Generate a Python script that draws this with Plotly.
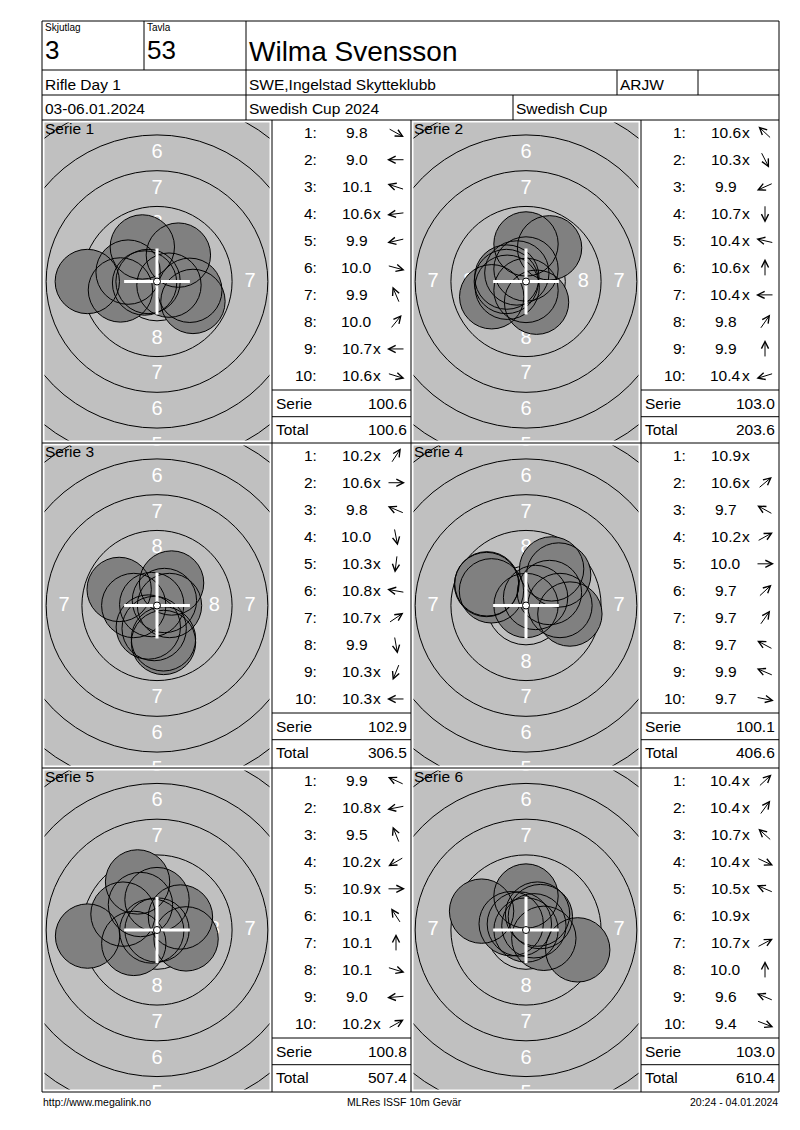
import plotly.graph_objects as go
import numpy as np

# 01. data
# huvud (header)
skjutlag = "3"
tavla = "53"
skytt = "Wilma Svensson"
dag = "Rifle Day 1"
klubb = "SWE,Ingelstad Skytteklubb"
klass = "ARJW"
datum = "03-06.01.2024"
tavling = "Swedish Cup 2024"
cup = "Swedish Cup"

# skott per serie: värde och riktning (grader, 0 = höger, moturs, None = mitt)
s1_varde = ["9.8", "9.0", "10.1", "10.6x", "9.9", "10.0", "9.9", "10.0", "10.7x", "10.6x"]
s1_riktning = [-29, 180, 162, 187, 193, -15, 113, 51, 180, -17]
s2_varde = ["10.6x", "10.3x", "9.9", "10.7x", "10.4x", "10.6x", "10.4x", "9.8", "9.9", "10.4x"]
s2_riktning = [137, -63, 204, -90, 167, 90, 180, 55, 90, 197]
s3_varde = ["10.2x", "10.6x", "9.8", "10.0", "10.3x", "10.8x", "10.7x", "9.9", "10.3x", "10.3x"]
s3_riktning = [57, 0, 157, -79, 263, 170, 34, -80, 248, 180]
s4_varde = ["10.9x", "10.6x", "9.7", "10.2x", "10.0", "9.7", "9.7", "9.7", "9.9", "9.7"]
s4_riktning = [None, 40, 151, 29, 0, 43, 55, 152, 157, -11]
s5_varde = ["9.9", "10.8x", "9.5", "10.2x", "10.9x", "10.1", "10.1", "10.1", "9.0", "10.2x"]
s5_riktning = [155, 191, 112, 210, 0, 123, 90, -17, 185, 29]
s6_varde = ["10.4x", "10.4x", "10.7x", "10.4x", "10.5x", "10.9x", "10.7x", "10.0", "9.6", "9.4"]
s6_riktning = [43, 54, 138, -25, 157, None, 28, 90, 157, -21]

serie_summa = ["100.6", "103.0", "102.9", "100.1", "100.8", "103.0"]
total_summa = ["100.6", "203.6", "306.5", "406.6", "507.4", "610.4"]

ring_tal = ["8", "7", "6", "5"]

fot_vanster = "http://www.megalink.no"
fot_mitt = "MLRes ISSF 10m Gevär"
fot_hoger = "20:24 - 04.01.2024"

serier = [
    (s1_varde, s1_riktning), (s2_varde, s2_riktning), (s3_varde, s3_riktning),
    (s4_varde, s4_riktning), (s5_varde, s5_riktning), (s6_varde, s6_riktning),
]

# 02. layout-konstanter (pixlar)
W, H = 800, 1130
FONT = "Liberation Sans, Arial, sans-serif"
K = 14.3             # px per mm på tavlan
KULA = 2.25          # kulradie mm
RINGAR = [0.25 + (10 - n) * 2.5 for n in range(9, 3, -1)]   # ring 9..4 radier mm
TAL_POS = [4.0, 6.5, 9.0, 11.5]                              # mitt i ring 8,7,6,5
KORS = 2.3

VX = 42; HX = 779; TOPP = 21; BOTTEN = 1092
tavla_kol = [(42, 272), (411, 641)]
tabell_kol = [(272, 411), (641, 779)]
rader = [(120, 443), (443, 768), (768, 1092)]


def px(x):
    return x / W


def py(y):
    return 1 - y / H


def skott_xy(varde, vinkel):
    s = float(varde.rstrip("x"))
    r = (10.9 - s) * 2.5 + 0.125 if s < 10.9 else 0.0
    a = np.radians(vinkel if vinkel is not None else 0)
    return r * np.cos(a), r * np.sin(a)


fig = go.Figure()
shapes = []
ann = []


def linje(x0, y0, x1, y1):
    shapes.append(dict(type="line", xref="paper", yref="paper", x0=px(x0), y0=py(y0),
                       x1=px(x1), y1=py(y1), line=dict(color="black", width=1)))


def text(x, y, t, size, anchor="left", color="black"):
    ann.append(dict(x=px(x), y=py(y), xref="paper", yref="paper", text=t, showarrow=False,
                    xanchor=anchor, yanchor="middle", font=dict(family=FONT, size=size, color=color)))


# 03. huvud
linje(VX, TOPP, HX, TOPP)
linje(VX, TOPP, VX, BOTTEN)
linje(HX, TOPP, HX, BOTTEN)
linje(VX, BOTTEN, HX, BOTTEN)
for y in [70, 95, 120]:
    linje(VX, y, HX, y)
linje(144, TOPP, 144, 70)
linje(246, TOPP, 246, 120)
linje(617, 70, 617, 95)
linje(698, 70, 698, 95)
linje(513, 95, 513, 120)

text(43, 27.5, "Skjutlag", 10)
text(145, 27.5, "Tavla", 10)
text(43, 50, skjutlag, 26)
text(145, 50, tavla, 26)
text(247, 51, skytt, 28)
text(43, 84, dag, 15.5)
text(247, 84, klubb, 15.5)
text(618, 84, klass, 15.5)
text(43, 108.5, datum, 15.5)
text(247, 108.5, tavling, 15.5)
text(514, 108.5, cup, 15.5)

# 04. paneler
for x in [272, 411, 641]:
    linje(x, 120, x, BOTTEN)
for y in [443, 768]:
    linje(VX, y, HX, y)

for i, (varden, riktningar) in enumerate(serier):
    r, c = divmod(i, 2)
    n = "" if i == 0 else str(i + 1)
    gx0, gx1 = tavla_kol[c][0] + 2.5, tavla_kol[c][1] - 2.5
    gy0, gy1 = rader[r][0] + 2.5, rader[r][1] - 2.5
    hx = (gx1 - gx0) / 2 / K
    hy = (gy1 - gy0) / 2 / K
    ax_opts = dict(showgrid=False, zeroline=False, showticklabels=False, ticks="",
                   showline=False, fixedrange=True)
    fig.layout["xaxis" + n] = dict(domain=[px(gx0), px(gx1)], range=[-hx, hx],
                                   anchor="y" + n, **ax_opts)
    fig.layout["yaxis" + n] = dict(domain=[py(gy1), py(gy0)], range=[-hy, hy],
                                   anchor="x" + n, **ax_opts)
    xr, yr = "x" + n, "y" + n

    for rr in RINGAR:
        shapes.append(dict(type="circle", xref=xr, yref=yr, x0=-rr, y0=-rr, x1=rr, y1=rr,
                           layer="below", line=dict(color="black", width=1)))

    # ringsiffror
    tx = [0] * 8 + [-TAL_POS[0], TAL_POS[0], -TAL_POS[1], TAL_POS[1], -TAL_POS[2], TAL_POS[2]]
    ty = [d * s for d in TAL_POS for s in (1, -1)] + [0] * 6
    tt = [t for t in ring_tal for _ in (1, 2)] + [ring_tal[0]] * 2 + [ring_tal[1]] * 2 + [ring_tal[2]] * 2
    fig.add_trace(go.Scatter(x=tx, y=ty, text=tt, mode="text", xaxis=xr, yaxis=yr,
                             textfont=dict(family=FONT, size=20, color="white"),
                             hoverinfo="skip", showlegend=False))

    xy = [skott_xy(v, a) for v, a in zip(varden, riktningar)]
    sx = [p[0] for p in xy]
    sy = [p[1] for p in xy]
    fig.add_trace(go.Scatter(x=sx, y=sy, mode="markers", xaxis=xr, yaxis=yr,
                             marker=dict(size=2 * KULA * K, color="#808080", line=dict(width=0)),
                             hoverinfo="skip", showlegend=False))
    fig.add_trace(go.Scatter(x=sx, y=sy, mode="markers", xaxis=xr, yaxis=yr,
                             marker=dict(size=2 * KULA * K, color="rgba(0,0,0,0)",
                                         line=dict(width=1, color="black")),
                             hoverinfo="skip", showlegend=False))
    # kors i mitten
    fig.add_trace(go.Scatter(x=[-KORS, KORS, None, 0, 0], y=[0, 0, None, -KORS, KORS],
                             mode="lines", xaxis=xr, yaxis=yr,
                             line=dict(color="white", width=3),
                             hoverinfo="skip", showlegend=False))
    fig.add_trace(go.Scatter(x=[0], y=[0], mode="markers", xaxis=xr, yaxis=yr,
                             marker=dict(size=7, color="white", line=dict(width=1, color="black")),
                             hoverinfo="skip", showlegend=False))

    top = rader[r][0]
    text(tavla_kol[c][0] + 0.5, top + 8.5, "Serie %d" % (i + 1), 15.5)

    # tabell
    tl, tr = tabell_kol[c]
    for j, (v, a) in enumerate(zip(varden, riktningar)):
        y = top + 12.7 + j * 27.03
        text(tl + 47, y, "%d:" % (j + 1), 15.5, anchor="right")
        num = v.rstrip("x")
        text(tl + 84.5, y, num, 15.5, anchor="center")
        if v.endswith("x"):
            text(tl + 84.5 + 0.485 * 15.5 * 2.0 - 0.5, y, "x", 15.5)
        if a is not None:
            ca, sa = np.cos(np.radians(a)), np.sin(np.radians(a))
            cx = tl + 124
            ann.append(dict(x=px(cx + 9 * ca), y=py(y - 9 * sa), xref="paper", yref="paper",
                            text="", showarrow=True, ax=-18 * ca, ay=18 * sa,
                            arrowhead=5, arrowsize=1.4, arrowwidth=1, arrowcolor="black"))
    linje(tl, top + 270, tr, top + 270)
    linje(tl, top + 296.7, tr, top + 296.7)
    text(tl + 1.5, top + 283.3, "Serie", 15.5)
    text(tr - 2.5, top + 283.3, serie_summa[i], 15.5, anchor="right")
    text(tl + 1.5, top + 309.5, "Total", 15.5)
    text(tr - 2.5, top + 309.5, total_summa[i], 15.5, anchor="right")

# 05. fot
text(41, 1102, fot_vanster, 10.5)
text(404, 1102, fot_mitt, 10.5, anchor="center")
text(780, 1102, fot_hoger, 10.5, anchor="right")

fig.update_layout(width=W, height=H, margin=dict(l=0, r=0, t=0, b=0),
                  paper_bgcolor="white", plot_bgcolor="#c0c0c0",
                  shapes=shapes, annotations=ann, showlegend=False,
                  font=dict(family=FONT))

fig.write_html("out.html", config={"displayModeBar": False},
               post_script="document.body.style.margin='0';")
